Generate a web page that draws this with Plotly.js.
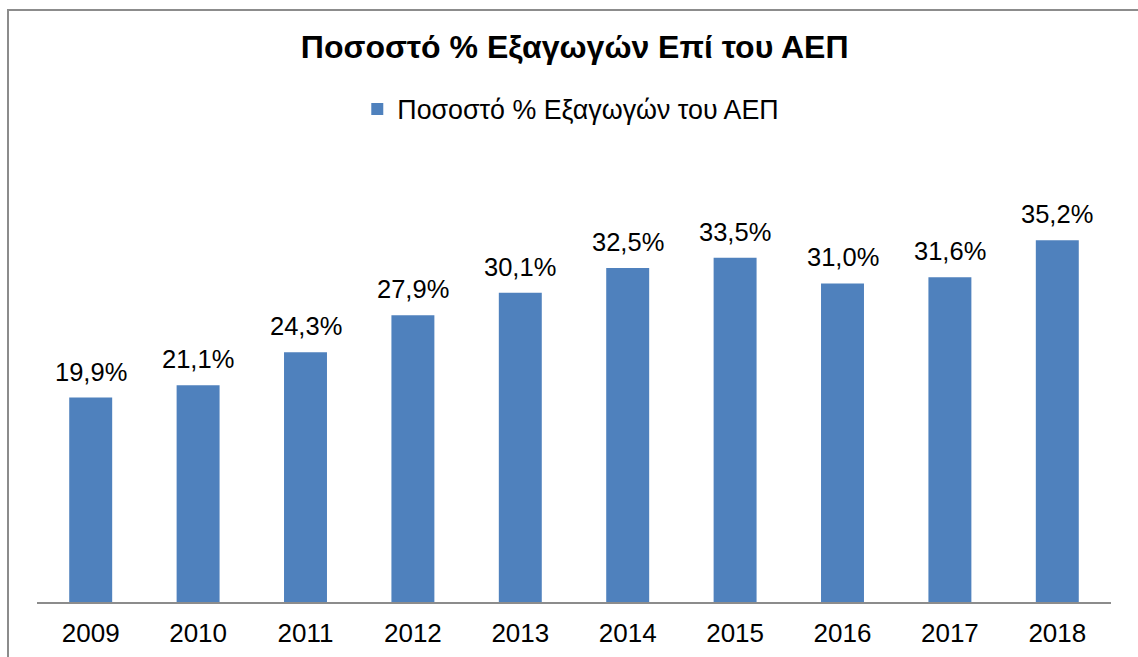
<!DOCTYPE html>
<html>
<head>
<meta charset="utf-8">
<script src="https://cdn.plot.ly/plotly-3.0.1.min.js"></script>
<style>
html,body{margin:0;padding:0;background:#fff;}
#wrap{position:relative;width:1138px;height:657px;overflow:hidden;}
#chart{position:absolute;left:0;top:0;width:1138px;height:657px;}
#frame{position:absolute;left:7px;top:9px;width:1200px;height:700px;border-left:2px solid #8c8c8c;border-top:2px solid #8c8c8c;pointer-events:none;}
</style>
</head>
<body>
<div id="wrap"><div id="chart"></div><div id="frame"></div></div>
<script>
const years = ['2009','2010','2011','2012','2013','2014','2015','2016','2017','2018'];
const shares = [19.9, 21.1, 24.3, 27.9, 30.1, 32.5, 33.5, 31.0, 31.6, 35.2];
const seriesName = 'Ποσοστό % Εξαγωγών του ΑΕΠ';
const chartTitle = 'Ποσοστό % Εξαγωγών Επί του ΑΕΠ';

const fontFam = 'Liberation Sans, Arial, sans-serif';

const trace = {
  type: 'bar',
  x: years,
  y: shares,
  name: seriesName,
  marker: {color: '#4F81BD'},
  hoverinfo: 'none'
};

// label for each bar, placed at the category index on the category axis
const labels = years.map((yr, i) => ({
  x: i,
  y: shares[i],
  xref: 'x',
  yref: 'y',
  text: shares[i].toFixed(1).replace('.', ',') + '%',
  showarrow: false,
  xanchor: 'center',
  yanchor: 'bottom',
  yshift: 10,
  font: {family: fontFam, size: 25.5, color: '#000'}
}));

const layout = {
  width: 1138,
  height: 657,
  separators: ',.',
  paper_bgcolor: 'rgba(0,0,0,0)',
  plot_bgcolor: 'rgba(0,0,0,0)',
  margin: {l: 37, r: 27, t: 191, b: 55},
  bargap: 0.6,
  showlegend: true,
  annotations: labels,
  title: {
    text: '<b>' + chartTitle + '</b>',
    font: {family: fontFam, size: 32, color: '#000'},
    x: 0.505, xanchor: 'center',
    y: 1 - 47/657, yanchor: 'middle'
  },
  legend: {
    orientation: 'h',
    x: 0.497, xanchor: 'center',
    y: 1 + (191 - 109)/411, yanchor: 'middle',
    font: {family: fontFam, size: 26.8, color: '#000'},
    itemwidth: 30,
    bgcolor: 'rgba(0,0,0,0)'
  },
  xaxis: {
    type: 'category',
    categoryorder: 'array',
    categoryarray: years,
    range: [-0.5, years.length - 0.5],
    showgrid: false,
    showline: true,
    linecolor: '#8c8c8c',
    linewidth: 2,
    ticks: 'outside',
    ticklen: 7,
    tickcolor: 'rgba(0,0,0,0)',
    tickfont: {family: fontFam, size: 26, color: '#000'},
    zeroline: false
  },
  yaxis: {
    range: [0, 40],
    visible: false,
    showgrid: false,
    zeroline: false
  }
};

Plotly.newPlot('chart', [trace], layout, {displayModeBar: false, staticPlot: true});
</script>
</body>
</html>
